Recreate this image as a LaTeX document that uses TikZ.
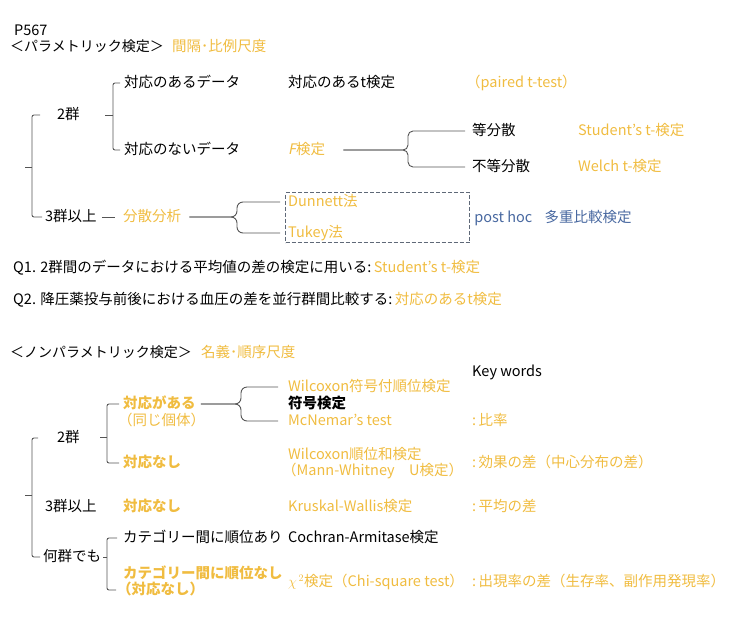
\documentclass[tikz,border=0pt]{standalone}
\usepackage{fontspec}
\setmainfont{Noto Sans CJK JP}
\newfontfamily\slantfont{Noto Sans CJK JP}[FakeSlant=0.2]
\usetikzlibrary{positioning}
\definecolor{ochre}{RGB}{240,188,64}
\definecolor{hocblue}{RGB}{72,104,160}
\definecolor{brkgray}{RGB}{85,85,85}
\definecolor{boxgray}{RGB}{95,105,120}
\tikzset{
  txt/.style={anchor=west, inner sep=0pt, text height=11pt, text depth=2pt,
    font=\fontsize{14.5}{17}\selectfont},
  otxt/.style={txt, text=ochre},
  btxt/.style={txt, text=ochre, font=\fontsize{14.5}{17}\selectfont\bfseries},
  htxt/.style={txt, text=hocblue},
  brk/.style={draw=brkgray, line width=0.9pt, rounded corners=2pt},
  dashbox/.style={draw=boxgray, line width=1.1pt, dash pattern=on 4pt off 2pt, inner sep=0pt}
}
\begin{document}
\begin{tikzpicture}[x=1pt, y=-1pt]
  \useasboundingbox (0,0) rectangle (750,630);
  % 見出し
  \node[txt] (pnum) at (14,31) {P567};
  \node[txt, font=\fontsize{14}{17}\selectfont] (ptitle) at (10,47) {＜パラメトリック検定＞};
  \node[otxt, right=8pt of ptitle] (pscale) {間隔･比例尺度};
  % 2群
  \node[txt] (pg2) at (57,115) {2群};
  \node[txt] (pd1) at (124,83) {対応のあるデータ};
  \node[txt] (pt1) at (288,83) {対応のあるt検定};
  \node[otxt] (pt1e) at (466,83) {（paired t-test）};
  \node[txt] (pd2) at (124,150) {対応のないデータ};
  \node[otxt] (pf) at (288,150) {{\slantfont F}検定};
  \node[txt] (peq) at (472,131) {等分散};
  \node[txt] (pneq) at (472,167) {不等分散};
  \node[otxt] (pstu) at (578,131) {Student's t-検定};
  \node[otxt] (pwel) at (578,167) {Welch t-検定};
  % 3群以上
  \node[txt] (pg3) at (45,217) {3群以上};
  \node[otxt] (panova) at (123,217) {分散分析};
  \node[dashbox, anchor=north west, minimum width=184pt, minimum height=50pt] (hocbox) at (285,192) {};
  \node[otxt] (pdun) at (288,202) {Dunnett法};
  \node[otxt] (ptuk) at (288,233) {Tukey法};
  \node[htxt, right=4pt of hocbox] (posthoc) {post hoc};
  \node[htxt, right=12pt of posthoc] (pmulti) {多重比較検定};
  % 括弧
  \coordinate (pspine) at (32,167);
  \draw[brk] ([xshift=-17pt]pg2.west) -| (pspine) |- ([xshift=-3pt]pg3.west);
  \draw[brk] (pspine) -- ++(-7,0);
  \coordinate (pspine2) at (113,115);
  \draw[brk] ([xshift=-4pt]pd1.west) -| (pspine2) |- ([xshift=-4pt]pd2.west);
  \draw[brk] (pspine2) -- ++(-8,0);
  \coordinate (fspine) at (408,150);
  \draw[brk, rounded corners=5pt] ([xshift=18pt]pf.east) -- (fspine) |- ([xshift=-7pt]peq.west);
  \draw[brk, rounded corners=5pt] ([xshift=18pt]pf.east) -- (fspine) |- ([xshift=-7pt]pneq.west);
  \draw[brk] ([xshift=5pt]pg3.east) -- ([xshift=-8pt]panova.west);
  \coordinate (aspine) at (237,217);
  \draw[brk, rounded corners=6pt] ([xshift=8pt]panova.east) -- (aspine) |- ([xshift=-8pt]pdun.west);
  \draw[brk, rounded corners=6pt] ([xshift=8pt]panova.east) -- (aspine) |- ([xshift=-8pt]ptuk.west);
  % 問題
  \node[txt] (q1) at (13,268) {Q1. 2群間のデータにおける平均値の差の検定に用いる:\,\textcolor{ochre}{Student's t-検定}};
  \node[txt] (q2) at (13,300) {Q2. 降圧薬投与前後における血圧の差を並行群間比較する:\,\textcolor{ochre}{対応のあるt検定}};
  % ノンパラメトリック
  \node[txt, font=\fontsize{14}{17}\selectfont] (ntitle) at (10,353) {＜ノンパラメトリック検定＞};
  \node[otxt, right=9pt of ntitle] (nscale) {名義･順序尺度};
  \node[txt] (keyw) at (472,372) {Key words};
  \node[txt] (ng2) at (57,438) {2群};
  \node[btxt] (npair) at (123,404) {対応がある};
  \node[otxt] (nsame) at (118,421) {（同じ個体）};
  \node[otxt] (nwil) at (288,387) {Wilcoxon符号付順位検定};
  \node[txt, font=\fontsize{14.5}{17}\selectfont\bfseries] (nsign) at (288,404) {符号検定};
  \node[otxt] (nmcn) at (288,421) {McNemar's test};
  \node[otxt] (nkw1) at (472,421) {:\,比率};
  \node[btxt] (nunp) at (123,463) {対応なし};
  \node[otxt] (nwrs) at (288,455) {Wilcoxon順位和検定};
  \node[otxt] (nmw) at (282,471) {（Mann-Whitney　U検定）};
  \node[otxt] (nkw2) at (472,463) {:\,効果の差（中心分布の差）};
  \node[txt] (ng3) at (45,507) {3群以上};
  \node[btxt] (nunp3) at (123,507) {対応なし};
  \node[otxt] (nkru) at (288,507) {Kruskal-Wallis検定};
  \node[otxt] (nkw3) at (472,507) {:\,平均の差};
  \node[txt] (nany) at (43,557) {何群でも};
  \node[txt] (ncat1) at (123,538) {カテゴリー間に順位あり};
  \node[txt] (ncoch) at (288,538) {Cochran-Armitase検定};
  \node[btxt] (ncat2) at (123,574) {カテゴリー間に順位なし};
  \node[btxt] (ncat2b) at (117,590) {（対応なし）};
  \node[otxt] (nchi) at (288,582) {$\chi^{\,2}$検定（Chi-square test）};
  \node[otxt] (nkw4) at (472,582) {:\,出現率の差（生存率、副作用発現率）};
  % 括弧
  \coordinate (nspine) at (32,495);
  \draw[brk] ([xshift=-19pt]ng2.west) -| (nspine) |- ([xshift=-3pt]nany.west);
  \draw[brk] (nspine) -- ++(-7,0);
  \coordinate (nspine2) at (107,437);
  \draw[brk] ([xshift=-4pt]npair.west) -| (nspine2) |- ([xshift=-4pt]nunp.west);
  \draw[brk] (nspine2) -- ++(-7,0);
  \coordinate (sspine) at (241,404);
  \draw[brk, rounded corners=6pt] ([xshift=5pt]npair.east) -- (sspine) |- ([xshift=-10pt]nwil.west);
  \draw[brk, rounded corners=6pt] ([xshift=5pt]npair.east) -- (sspine) |- ([xshift=-10pt]nmcn.west);
  \coordinate (cspine) at (107,557);
  \draw[brk] ([xshift=-6pt]ncat1.west) -| (cspine) |- ([xshift=-1pt]ncat2b.west);
  \draw[brk] (cspine) -- ([xshift=2pt]nany.east);
\end{tikzpicture}
\end{document}
